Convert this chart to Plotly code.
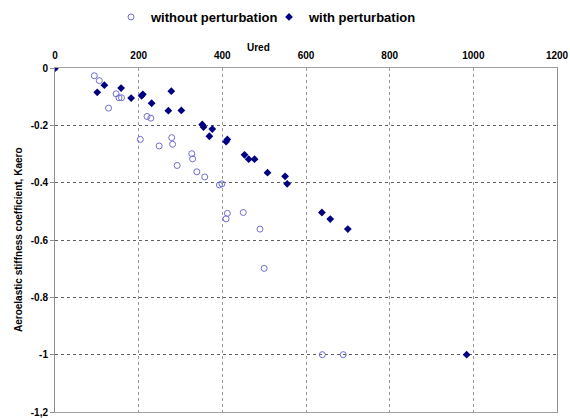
import plotly.graph_objects as go

# Data
ured_without = [0, 94, 106, 128, 146, 153, 159, 204, 220, 229, 249, 279, 281, 292,
                327, 329, 339, 358, 393, 399, 409, 412, 450, 490, 500, 639, 689]
kaero_without = [0, -0.027, -0.044, -0.140, -0.090, -0.104, -0.104, -0.249, -0.169,
                 -0.175, -0.272, -0.243, -0.266, -0.340, -0.299, -0.317, -0.362,
                 -0.380, -0.408, -0.404, -0.526, -0.507, -0.504, -0.562, -0.699,
                 -1.0, -1.0]

ured_with = [0, 101, 118, 158, 182, 207, 210, 231, 271, 278, 302, 352, 355, 369,
             376, 409, 412, 453, 463, 477, 508, 550, 555, 638, 658, 700, 984]
kaero_with = [0, -0.085, -0.060, -0.070, -0.105, -0.097, -0.092, -0.123, -0.149,
              -0.081, -0.148, -0.197, -0.206, -0.238, -0.213, -0.257, -0.249,
              -0.303, -0.318, -0.318, -0.365, -0.378, -0.404, -0.504, -0.527,
              -0.562, -1.0]

x_ticks = [0, 200, 400, 600, 800, 1000, 1200]
y_ticks = [0, -0.2, -0.4, -0.6, -0.8, -1.0, -1.2]
y_ticktext = ["0", "-0.2", "-0.4", "-0.6", "-0.8", "-1", "-1,2"]

FONT = "Liberation Sans, Arial, sans-serif"

W, H = 570, 418
L, T = 55, 68
PW, PH = 502, 344

fig = go.Figure()
fig.add_trace(go.Scatter(
    x=ured_without, y=kaero_without, mode="markers", name="without perturbation",
    marker=dict(symbol="circle-open", size=6, color="#6F6FD0", line=dict(width=1, color="#6F6FD0")),
))
fig.add_trace(go.Scatter(
    x=ured_with, y=kaero_with, mode="markers", name="with perturbation",
    marker=dict(symbol="diamond", size=6, color="#000080"),
))

fig.update_layout(
    width=W, height=H,
    margin=dict(l=L, r=W - L - PW, t=T, b=H - T - PH, pad=0),
    paper_bgcolor="white", plot_bgcolor="white",
    font=dict(family=FONT, color="black"),
    showlegend=True,
    legend=dict(orientation="h", x=(111 - L) / PW, xanchor="left",
                yref="container", y=1 - 17 / H, yanchor="middle",
                font=dict(size=13, family=FONT, weight="bold"),
                itemwidth=30, entrywidth=113, bgcolor="rgba(0,0,0,0)"),
    xaxis=dict(side="top", range=[0, 1200], tickvals=x_ticks, automargin=False,
               tickfont=dict(size=10, family=FONT, weight="bold"), ticklabelstandoff=4,
               showgrid=True, gridcolor="#9a9a9a", griddash="dot", gridwidth=1,
               showline=True, linecolor="#a0a0a0", linewidth=1, mirror=True,
               ticks="", zeroline=False),
    yaxis=dict(range=[-1.2, 0], tickvals=y_ticks, ticktext=y_ticktext, automargin=False,
               tickfont=dict(size=10, family=FONT, weight="bold"),
               showgrid=True, gridcolor="#606060", griddash="dot", gridwidth=1,
               showline=True, linecolor="#909090", linewidth=1, mirror=True,
               ticks="outside", ticklen=4, tickcolor="#909090", zeroline=False),
    annotations=[
        dict(text="<b>Ured</b>", xref="paper", yref="paper", x=(258 - L) / PW,
             y=1 + (T - 47) / PH, showarrow=False, xanchor="center", yanchor="middle",
             font=dict(size=10, family=FONT)),
        dict(text="<b>Aeroelastic stiffness coefficient, Kaero</b>", xref="paper", yref="paper",
             x=-(L - 18) / PW, y=0.5, textangle=-90, showarrow=False,
             xanchor="center", yanchor="middle", font=dict(size=10, family=FONT)),
    ],
)

fig.write_html("out.html", config={"displayModeBar": False},
               post_script="document.body.style.margin='0';")
